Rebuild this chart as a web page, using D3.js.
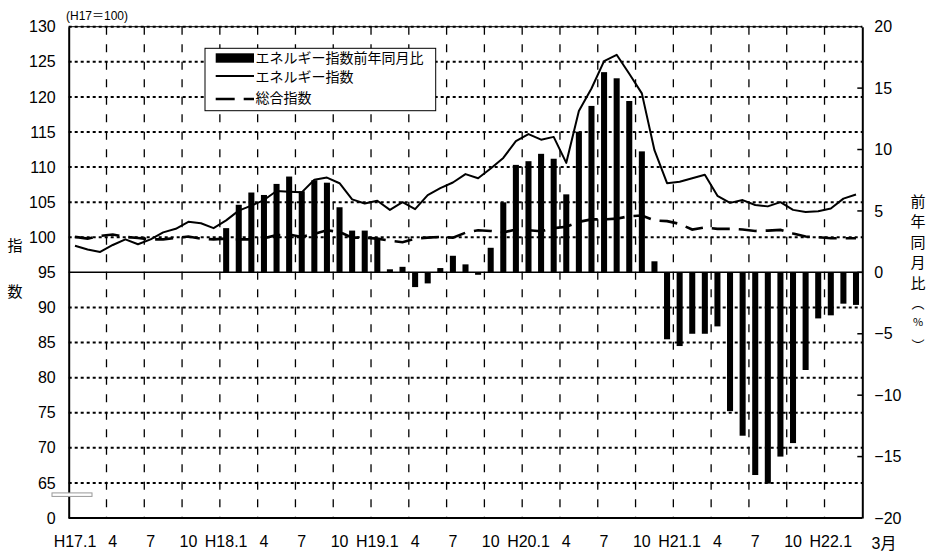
<!DOCTYPE html>
<html>
<head>
<meta charset="utf-8">
<script src="https://cdn.jsdelivr.net/npm/d3@7"></script>
<style>
  body { margin: 0; background: #fff; }
  svg text { font-family: "Liberation Sans", "Noto Sans CJK JP", sans-serif; fill: #000; }
  .jp { font-family: "Noto Sans CJK JP", sans-serif; }
</style>
</head>
<body>
<div id="chart"></div>
<script>
// months H17.1 .. H22.3
var months = [
  "H17.1","H17.2","H17.3","H17.4","H17.5","H17.6","H17.7","H17.8","H17.9","H17.10","H17.11","H17.12",
  "H18.1","H18.2","H18.3","H18.4","H18.5","H18.6","H18.7","H18.8","H18.9","H18.10","H18.11","H18.12",
  "H19.1","H19.2","H19.3","H19.4","H19.5","H19.6","H19.7","H19.8","H19.9","H19.10","H19.11","H19.12",
  "H20.1","H20.2","H20.3","H20.4","H20.5","H20.6","H20.7","H20.8","H20.9","H20.10","H20.11","H20.12",
  "H21.1","H21.2","H21.3","H21.4","H21.5","H21.6","H21.7","H21.8","H21.9","H21.10","H21.11","H21.12",
  "H22.1","H22.2","H22.3"
];

// エネルギー指数 (H17=100)
var energyIndex = [
  98.8, 98.25, 97.9, 98.9, 99.7, 99.0, 99.7, 100.7, 101.2, 102.2, 102.0, 101.3,
  102.4, 103.8, 104.5, 105.3, 106.6, 106.5, 106.4, 108.2, 108.5, 107.7, 105.4, 104.8,
  105.2, 103.9, 105.0, 104.0, 106.0, 107.0, 107.8, 109.0, 108.4, 109.8, 111.3, 113.7,
  114.7, 113.9, 114.3, 110.6, 118.0, 121.2, 125.1, 126.0, 123.3, 120.5, 112.4, 107.7,
  107.9, 108.4, 108.9, 105.9, 104.9, 105.3, 104.6, 104.4, 105.0, 103.9, 103.6, 103.7,
  104.1, 105.5, 106.1
];

// 総合指数 (H17=100)
var generalIndex = [
  100.05, 99.8, 100.2, 100.4, 100.05, 99.9, 99.7, 99.7, 99.9, 100.1, 99.8, 99.7,
  99.8, 99.7, 99.7, 99.85, 100.3, 100.4, 100.05, 100.5, 101.0, 100.75, 99.95, 99.95,
  99.8, 99.5, 99.3, 99.8, 99.95, 100.05, 99.95, 100.65, 101.0, 100.9, 100.7, 101.1,
  101.0, 100.85, 101.3, 101.5, 102.2, 102.55, 102.55, 102.65, 103.0, 103.1, 102.4, 102.3,
  101.9, 101.1, 101.4, 101.2, 101.2, 101.1, 100.9, 100.95, 101.05, 100.55, 100.1, 100.0,
  99.85, 99.85, 99.85
];

// エネルギー指数前年同月比 (%), H18.1 .. H22.3
var yoyMonths = months.slice(12);
var yoyValues = [
  3.6, 5.5, 6.5, 6.3, 7.2, 7.8, 6.6, 7.5, 7.3, 5.3, 3.4, 3.4,
  2.8, 0.25, 0.45, -1.2, -0.9, 0.35, 1.35, 0.65, -0.2, 2.0, 5.7, 8.75,
  9.05, 9.65, 9.25, 6.35, 11.45, 13.55, 16.3, 15.8, 13.95, 9.85, 0.9, -5.45,
  -6.0, -5.0, -5.0, -4.4, -11.3, -13.3, -16.5, -17.2, -15.0, -13.9, -7.95, -3.75,
  -3.5, -2.55, -2.65
];

var xTickMonths = ["H17.1","H17.4","H17.7","H17.10","H18.1","H18.4","H18.7","H18.10","H19.1","H19.4","H19.7","H19.10",
                   "H20.1","H20.4","H20.7","H20.10","H21.1","H21.4","H21.7","H21.10","H22.1"];
var xTickLabels = ["H17.1","4","7","10","H18.1","4","7","10","H19.1","4","7","10",
                   "H20.1","4","7","10","H21.1","4","7","10","H22.1"];
var leftTicks = [60, 65, 70, 75, 80, 85, 90, 95, 100, 105, 110, 115, 120, 125, 130];
var rightTicks = [-20, -15, -10, -5, 0, 5, 10, 15, 20];
var legendLabels = ["エネルギー指数前年同月比", "エネルギー指数", "総合指数"];

var width = 928, height = 553;
var pLeft = 68.7, pRight = 862.3, pTop = 26.7, pBottom = 518;

var svg = d3.select("#chart").append("svg").attr("width", width).attr("height", height);

var x = d3.scaleBand().domain(months).range([pLeft, pRight]).padding(0);
var yL = d3.scaleLinear().domain([60, 130]).range([pBottom, pTop]);
var yR = d3.scaleLinear().domain([-20, 20]).range([pBottom, pTop]);

// horizontal dotted grid
svg.append("g").selectAll("line")
  .data(leftTicks.filter(function(d) { return d > 60 && d < 130 && d !== 95; }))
  .enter()
  .append("line")
  .attr("x1", pLeft).attr("x2", pRight)
  .attr("y1", function(d) { return yL(d); })
  .attr("y2", function(d) { return yL(d); })
  .attr("stroke", "#000").attr("stroke-width", 2).attr("stroke-dasharray", "3,3");

// vertical dashed grid at quarter boundaries
svg.append("g").selectAll("line")
  .data(xTickMonths.slice(1))
  .enter()
  .append("line")
  .attr("x1", function(d) { return x(d); })
  .attr("x2", function(d) { return x(d); })
  .attr("y1", pTop).attr("y2", pBottom)
  .attr("stroke", "#000").attr("stroke-width", 1.3).attr("stroke-dasharray", "8,9.5");

// top border (dotted over thin)
svg.append("line").attr("x1", pLeft).attr("x2", pRight).attr("y1", yL(130)).attr("y2", yL(130))
  .attr("stroke", "#000").attr("stroke-width", 1);
svg.append("line").attr("x1", pLeft).attr("x2", pRight).attr("y1", yL(130)).attr("y2", yL(130))
  .attr("stroke", "#000").attr("stroke-width", 2).attr("stroke-dasharray", "3,3");

// bars
var bw = x.bandwidth() * 0.48;
svg.append("g").selectAll("rect")
  .data(yoyValues)
  .enter()
  .append("rect")
  .attr("x", function(d, i) { return x(yoyMonths[i]) + (x.bandwidth() - bw) / 2; })
  .attr("y", function(d) { return d >= 0 ? yR(d) : yR(0); })
  .attr("width", bw)
  .attr("height", function(d) { return Math.abs(yR(d) - yR(0)); })
  .attr("fill", "#000");

// zero line
svg.append("line").attr("x1", pLeft).attr("x2", pRight).attr("y1", yR(0)).attr("y2", yR(0))
  .attr("stroke", "#000").attr("stroke-width", 1.5);

var line = d3.line()
  .x(function(d, i) { return x(months[i]) + x.bandwidth() / 2; })
  .y(function(d) { return yL(d); });

svg.append("path").datum(generalIndex).attr("d", line)
  .attr("fill", "none").attr("stroke", "#000").attr("stroke-width", 2.6).attr("stroke-dasharray", "18,9");
svg.append("path").datum(energyIndex).attr("d", line)
  .attr("fill", "none").attr("stroke", "#000").attr("stroke-width", 2).attr("stroke-linejoin", "round");

// bottom border, left / right axes
svg.append("line").attr("x1", pLeft).attr("x2", pRight).attr("y1", pBottom).attr("y2", pBottom)
  .attr("stroke", "#000").attr("stroke-width", 2);

var axL = svg.append("g").attr("transform", "translate(" + pLeft + ",0)")
  .call(d3.axisLeft(yL).tickValues(leftTicks).tickSize(0).tickPadding(13)
    .tickFormat(function(d) { return d === 60 ? "0" : d; }));
axL.select(".domain").attr("stroke", "#000").attr("stroke-width", 2);
axL.selectAll("text").attr("font-size", 16).attr("font-family", null);

var axR = svg.append("g").attr("transform", "translate(" + pRight + ",0)")
  .call(d3.axisRight(yR).tickValues(rightTicks).tickSize(0).tickPadding(12)
    .tickFormat(function(d) { return d < 0 ? "\u2212" + Math.abs(d) : d; }));
axR.select(".domain").attr("stroke", "#000").attr("stroke-width", 2);
axR.selectAll("text").attr("font-size", 16).attr("font-family", null);
// small inward ticks on the right axis
svg.append("g").selectAll("line").data(rightTicks.slice(1, -1)).enter().append("line")
  .attr("x1", pRight - 5).attr("x2", pRight).attr("y1", function(d) { return yR(d); }).attr("y2", function(d) { return yR(d); })
  .attr("stroke", "#000").attr("stroke-width", 1.5);

// x axis labels
var axB = svg.append("g").attr("transform", "translate(0," + pBottom + ")")
  .call(d3.axisBottom(x).tickValues(xTickMonths).tickSize(0).tickPadding(18)
    .tickFormat(function(d, i) { return xTickLabels[i]; }));
axB.select(".domain").remove();
axB.selectAll("text").attr("font-size", 16).attr("font-family", null);
svg.append("text").attr("x", x("H22.3") + x.bandwidth() / 2 + 28).attr("y", pBottom + 31)
  .attr("text-anchor", "middle").attr("font-size", 16).text("3月");

// axis break mark
svg.append("rect").attr("x", 52).attr("y", yL(65) + 10).attr("width", 40).attr("height", 3.5)
  .attr("fill", "#fff").attr("stroke", "#999").attr("stroke-width", 1);

// unit note
svg.append("text").attr("x", 66).attr("y", 19.5).attr("font-size", 12).text("(H17＝100)");

// left title
svg.append("text").attr("class", "jp").attr("x", 15).attr("y", 251).attr("text-anchor", "middle").attr("font-size", 15).text("指");
svg.append("text").attr("class", "jp").attr("x", 15).attr("y", 297).attr("text-anchor", "middle").attr("font-size", 15).text("数");

// right title, vertical
var rTitle = ["前", "年", "同", "月", "比", "\uFE35", "%", "\uFE36"];
var rTitleY = [201.5, 222, 243, 263, 283.5, 303, 322, 345];
svg.append("g").selectAll("text").data(rTitle).enter().append("text")
  .attr("class", "jp")
  .attr("x", 918).attr("y", function(d, i) { return rTitleY[i]; })
  .attr("dy", "0.35em").attr("text-anchor", "middle")
  .attr("font-size", function(d, i) { return d === "%" ? 11 : (i > 4 ? 13 : 15); })
  .text(function(d) { return d; });

// legend
var lg = svg.append("g");
lg.append("rect").attr("x", 205).attr("y", 48.3).attr("width", 230.7).attr("height", 62.4)
  .attr("fill", "#fff").attr("stroke", "#000").attr("stroke-width", 1);
var rowY = [58, 77, 97.5];
lg.append("rect").attr("x", 215.7).attr("y", rowY[0] - 4.7).attr("width", 38.3).attr("height", 9.4).attr("fill", "#000");
lg.append("line").attr("x1", 215.7).attr("x2", 254).attr("y1", rowY[1] - 1).attr("y2", rowY[1] - 1)
  .attr("stroke", "#000").attr("stroke-width", 2);
lg.append("line").attr("x1", 215.7).attr("x2", 254).attr("y1", rowY[2] + 1.5).attr("y2", rowY[2] + 1.5)
  .attr("stroke", "#000").attr("stroke-width", 2.6).attr("stroke-dasharray", "19,9");
lg.selectAll(".lgt").data(legendLabels).enter().append("text")
  .attr("class", "jp")
  .attr("x", 255.5).attr("y", function(d, i) { return rowY[i]; })
  .attr("dy", "0.36em").attr("font-size", 14)
  .text(function(d) { return d; });
</script>
</body>
</html>
